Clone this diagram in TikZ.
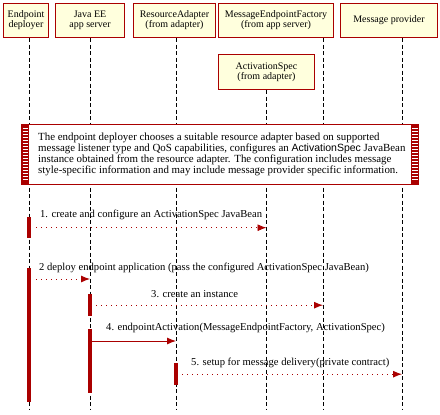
\documentclass[tikz,border=0pt]{standalone}
\usepackage{fontspec}
\setmainfont{Liberation Serif}
\setsansfont{Liberation Sans}
\usetikzlibrary{arrows.meta,positioning,calc}
\definecolor{umlred}{RGB}{170,0,0}
\definecolor{umlfill}{RGB}{255,255,221}

\begin{document}
\begin{tikzpicture}[x=1pt, y=-1pt,
    every node/.style={font=\fontsize{10}{10}\selectfont, inner sep=0pt},
    actor/.style={rectangle, draw=umlred, fill=umlfill, line width=1pt, align=center, anchor=north west, minimum height=34},
    lifeline/.style={draw, line width=0.8pt, dash pattern=on 4pt off 2.5pt},
    bar/.style={rectangle, fill=umlred, minimum width=4.5, anchor=north},
    msg/.style={draw=umlred, line width=0.9pt, dash pattern=on 1pt off 4pt, -{Latex[length=9pt,width=7pt]}},
    call/.style={draw=umlred, line width=0.9pt, -{Latex[length=9pt,width=7pt]}},
    label/.style={anchor=west, font=\fontsize{10.6}{10}\selectfont}]

    \useasboundingbox (0,0) rectangle (440,415);

    % participants
    \node[actor, minimum width=45] (dep) at (3,3) {Endpoint\\deployer};
    \node[actor, minimum width=69] (jee) at (55,3) {Java EE\\app server};
    \node[actor, minimum width=82] (ra) at (133,3) {ResourceAdapter\\(from adapter)};
    \node[actor, minimum width=115] (mef) at (218,3) {MessageEndpointFactory\\(from app server)};
    \node[actor, minimum width=97] (mp) at (340,3) {Message provider};
    \node[actor, minimum width=96, minimum height=35] (spec) at (218,54) {ActivationSpec\\(from adapter)};

    % lifelines
    \coordinate (depL) at (29,409);
    \coordinate (jeeL) at (jee.south |- depL);
    \coordinate (raL) at (176,409);
    \coordinate (specL) at (spec.south |- depL);
    \coordinate (mefL) at (323,409);
    \coordinate (mpL) at (402,409);
    \draw[lifeline] (depL |- dep.south) -- (depL);
    \draw[lifeline] (jee.south) -- (jeeL);
    \draw[lifeline] (raL |- ra.south) -- (raL);
    \draw[lifeline] (spec.south) -- (specL);
    \draw[lifeline] (mefL |- mef.south) -- (mefL);
    \draw[lifeline] (mpL |- mp.south) -- (mpL);

    % note
    \node[rectangle, draw=umlred, fill=white, line width=1pt, anchor=north west, minimum width=397, minimum height=60] (note) at (21,124) {};
    \fill[umlred] (note.north west) rectangle ([xshift=8]note.south west);
    \fill[umlred] ([xshift=-8]note.north east) rectangle (note.south east);
    \foreach \y in {128,131,...,181} {
        \draw[white, line width=0.8pt] ([xshift=1.5]note.west |- 0,\y) -- ([xshift=7]note.west |- 0,\y);
        \draw[white, line width=0.8pt] ([xshift=-7]note.east |- 0,\y) -- ([xshift=-1.5]note.east |- 0,\y);
    }
    \node[anchor=north west, align=left, font=\fontsize{10.9}{10}\selectfont] (notetext) at (38,133)
        {The endpoint deployer chooses a suitable resource adapter based on supported\\
         message listener type and QoS capabilities, configures an {\sffamily\fontsize{10.5}{10}\selectfont ActivationSpec} JavaBean\\
         instance obtained from the resource adapter. The configuration includes message\\
         style-specific information and may include message provider specific information.};

    % activations
    \node[bar, minimum height=21] (bd1) at (depL |- 0,217) {};
    \node[bar, minimum height=134] (bd2) at (depL |- 0,268) {};
    \node[bar, minimum height=22] (bj1) at (jeeL |- 0,294) {};
    \node[bar, minimum height=64] (bj2) at (jeeL |- 0,329) {};
    \node[bar, minimum height=22] (br1) at (raL |- 0,363) {};

    % messages
    \node[label] (m1) at (40,215) {1. create and configure an ActivationSpec JavaBean};
    \draw[msg] ([xshift=5]bd1.east) -- (specL |- bd1.east);

    \node[label] (m2) at (39,268) {2 deploy endpoint application (pass the configured ActivationSpec JavaBean)};
    \draw[msg] ([xshift=5]bd2.east |- 0,279) -- (jeeL |- 0,279);

    \node[label] (m3) at (151,294) {3. create an instance};
    \draw[msg] ([xshift=4]bj1.east) -- (mefL |- bj1.east);

    \node[label] (m4) at (106,328) {4. endpointActivation(MessageEndpointFactory, ActivationSpec)};
    \draw[call] (bj2.east |- 0,341) -- (raL |- 0,341);

    \node[label] (m5) at (191,363) {5. setup for message delivery(private contract)};
    \draw[msg] ([xshift=4]br1.east) -- (mpL |- br1.east);
\end{tikzpicture}
\end{document}
